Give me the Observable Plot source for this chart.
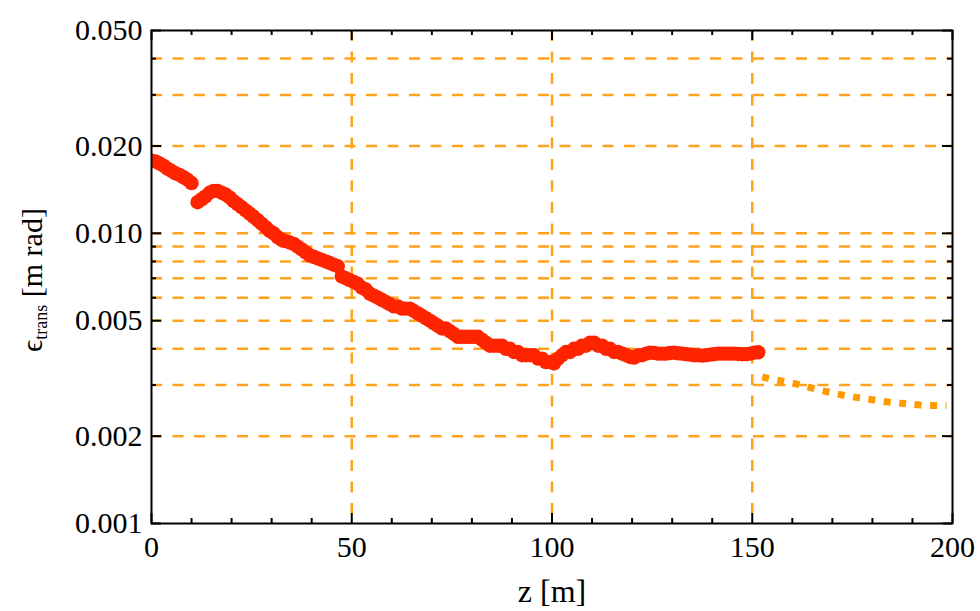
<!DOCTYPE html>
<html><head><meta charset="utf-8">
<script src="https://cdn.jsdelivr.net/npm/d3@7"></script>
<script src="https://cdn.jsdelivr.net/npm/@observablehq/plot@0.6"></script>
<style>body{margin:0;background:#fff} svg{display:block}</style>
</head><body><div id="chart"></div>
<script>
// measured emittance (red dots)
const zMeasured = [0,1,2,3,4,5,6,7,8,9,10,11.5,12.5,13.5,14.5,15.5,16.5,17.5,18.5,19.5,20.5,21.5,22.5,23.5,24.5,25.5,26.5,27.5,28.5,29.5,30.5,31.5,32.5,33.5,34.5,35.5,36.5,37.5,38.5,39.5,40.5,41.5,42.5,43.5,44.5,45.5,46.5,47.5,48.5,49.5,50.5,51.5,52.5,53.5,54.5,55.5,56.5,57.5,58.5,59.5,60.5,61.5,62.5,63.5,64.5,65.5,66.5,67.5,68.5,69.5,70.5,71.5,72.5,73.5,74.5,75.5,76.5,77.5,78.5,79.5,80.5,81.5,82.5,83.5,84.5,85.5,86.5,87.5,88.5,89.5,90.5,91.5,92.5,93.5,94.5,95.5,96.5,97.5,98.5,99.5,100.5,101.5,102.5,103.5,104.5,105.5,106.5,107.5,108.5,109.5,110.5,111.5,112.5,113.5,114.5,115.5,116.5,117.5,118.5,119.5,120.5,121.5,122.5,123.5,124.5,125.5,126.5,127.5,128.5,129.5,130.5,131.5,132.5,133.5,134.5,135.5,136.5,137.5,138.5,139.5,140.5,141.5,142.5,143.5,144.5,145.5,146.5,147.5,148.5,149.5,150.5,151.5];
const epsMeasured = [0.0178,0.0177,0.0174,0.0171,0.0167,0.0164,0.0161,0.0159,0.0156,0.0153,0.0149,0.0128,0.0131,0.0134,0.0138,0.0140,0.0140,0.0138,0.0136,0.0133,0.0129,0.0126,0.0123,0.0120,0.0117,0.0114,0.0111,0.0108,0.0105,0.0102,0.0100,0.0097,0.0095,0.0094,0.0093,0.0092,0.0090,0.0088,0.0086,0.0084,0.0083,0.0082,0.0081,0.0080,0.0079,0.0078,0.0077,0.0071,0.0070,0.0069,0.0068,0.0067,0.0065,0.0064,0.0062,0.0061,0.0060,0.0059,0.0058,0.0057,0.0056,0.0056,0.0055,0.0055,0.0055,0.0054,0.0053,0.0052,0.0051,0.0050,0.0049,0.0048,0.0047,0.0047,0.0046,0.0045,0.0044,0.0044,0.0044,0.0044,0.0044,0.0044,0.0043,0.0042,0.0041,0.0041,0.0041,0.0041,0.0040,0.0040,0.0039,0.0039,0.0038,0.0038,0.0038,0.0038,0.0037,0.0037,0.0036,0.0036,0.00356,0.0037,0.0038,0.0039,0.0039,0.0040,0.0040,0.0041,0.0041,0.0042,0.0042,0.0041,0.0041,0.0040,0.0040,0.0039,0.0039,0.00385,0.0038,0.00375,0.00373,0.0038,0.0038,0.00385,0.00388,0.00387,0.00385,0.00385,0.00385,0.00387,0.00388,0.00386,0.00385,0.00383,0.00382,0.0038,0.0038,0.00379,0.0038,0.00382,0.00383,0.00385,0.00385,0.00385,0.00385,0.00385,0.00384,0.00383,0.00383,0.00385,0.00388,0.00389,0.0039];
// extrapolation (orange dotted)
const zFit = [152.5,156,160,164,168,172,176,180,184,188,192,196,198.5];
const epsFit = [0.00320,0.00312,0.00305,0.00295,0.00286,0.00278,0.00272,0.00267,0.00262,0.00259,0.00256,0.00255,0.00255];
// axes
const yGrid = [0.002,0.003,0.004,0.005,0.006,0.007,0.008,0.009,0.01,0.02,0.03,0.04];
const yTickLabels = [0.001,0.002,0.005,0.01,0.02,0.05];
const yMinorTicks = [0.003,0.004,0.006,0.007,0.008,0.009,0.03,0.04];
const xGrid = [50,100,150];
const xTickLabels = [0,50,100,150,200];
const xMinorTicks = [10,20,30,40,60,70,80,90,110,120,130,140,160,170,180,190];

const W=980, H=611, mL=151, mR=28, mT=30, mB=88;
const pw = W-mL-mR, ph = H-mT-mB;
const points = zMeasured.map((z,i)=>({z, eps: epsMeasured[i]}));
const fit = zFit.map((z,i)=>({z, eps: epsFit[i]}));
const gridColor = "#ffa31f";
const font = "'Liberation Serif', 'Times New Roman', serif";
const tk = {stroke:"#000", strokeWidth:2};

const chart = Plot.plot({
  width: W, height: H, marginLeft: mL, marginRight: mR, marginTop: mT, marginBottom: mB,
  style: {fontFamily: font, fontSize: "30px", background: "#fff", color: "#000"},
  x: {domain: [0,200]},
  y: {type: "log", domain: [0.001, 0.05]},
  marks: [
    Plot.ruleY(yGrid, {stroke: gridColor, strokeWidth: 2.5, strokeDasharray: "11,10.5"}),
    Plot.ruleX(xGrid, {stroke: gridColor, strokeWidth: 2.5, strokeDasharray: "11,10.5"}),
    Plot.line(fit, {x:"z", y:"eps", curve:"natural", stroke:"#ff9a00", strokeWidth:7, strokeDasharray:"7,8.5", strokeLinecap:"butt"}),
    Plot.dot(points, {x:"z", y:"eps", r:7.2, fill:"#ff2400", clip: true}),
    Plot.tickY(yTickLabels, {...tk, insetRight: pw-10}),
    Plot.tickY(yMinorTicks, {...tk, insetRight: pw-5}),
    Plot.tickY(yTickLabels, {...tk, insetLeft: pw-10}),
    Plot.tickY(yMinorTicks, {...tk, insetLeft: pw-5}),
    Plot.tickX(xTickLabels, {...tk, insetTop: ph-10}),
    Plot.tickX(xMinorTicks, {...tk, insetTop: ph-5}),
    Plot.tickX(xTickLabels, {...tk, insetBottom: ph-10}),
    Plot.tickX(xMinorTicks, {...tk, insetBottom: ph-5}),
    Plot.frame({stroke:"#000", strokeWidth:2}),
    Plot.axisY({ticks: yTickLabels, tickSize: 0, tickPadding: 9, tickFormat: d3.format(".3f"), label: null, fontSize: 30}),
    Plot.axisX({ticks: xTickLabels, tickSize: 0, tickPadding: 12, label: null, fontSize: 30}),
    Plot.text(["z [m]"], {text: d=>d, frameAnchor: "bottom", dy: 78, fontSize: 32})
  ]
});
document.getElementById("chart").append(chart);
const svg = d3.select(chart);
const t = svg.append("text")
  .attr("transform","translate(42,280) rotate(-90)")
  .attr("text-anchor","middle")
  .attr("font-family", font)
  .attr("font-size", 30)
  .attr("fill","#000");
t.append("tspan").text("ϵ");
t.append("tspan").attr("font-size",18).attr("dy",5).text("trans");
t.append("tspan").attr("dy",-5).text(" [m rad]");
</script>
</body></html>
